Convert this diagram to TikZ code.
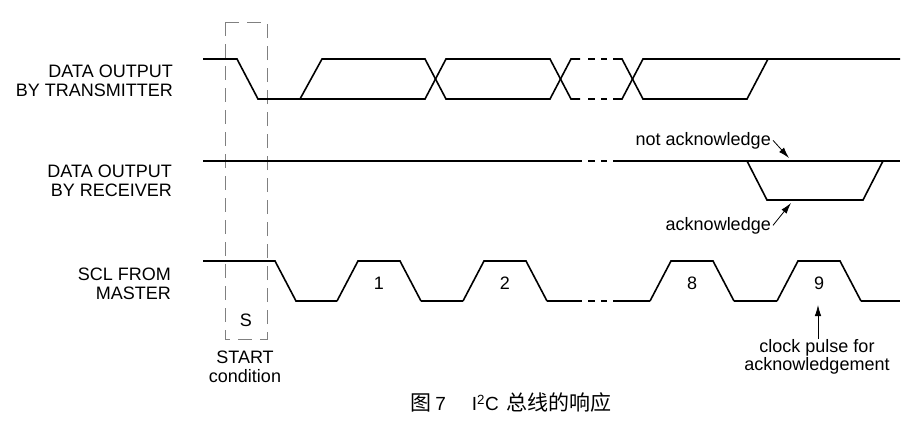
\documentclass[tikz,border=0pt]{standalone}
\usepackage{fontspec}
\setmainfont{Liberation Sans}
\newfontfamily\cjk{Noto Sans CJK SC}
\usetikzlibrary{arrows.meta}

\begin{document}
\begin{tikzpicture}[
    x=1pt, y=-1pt,
    >={Latex[length=11pt,width=6.5pt]},
    every node/.style={font=\fontsize{18}{18.5}\selectfont, inner sep=0pt},
    signal/.style={line width=1.6pt, line join=miter},
    startbox/.style={draw=black!50, line width=0.9pt, dash pattern=on 14pt off 8pt},
    rowlbl/.style={anchor=north east, align=right},
    notelbl/.style={anchor=base east},
    pointer/.style={->, line width=0.8pt}
]
\useasboundingbox (0,0) rectangle (922,439);

% START-Rahmen
\draw[startbox] (225,22) rectangle (267,339);
\node (s) at (246,320) {S};
\node[anchor=north, align=center] (start) at (245,351) {START\\condition};

% =========================================================
% Sender
% =========================================================
\node[rowlbl] (tx) at (173,65) {DATA OUTPUT\\BY TRANSMITTER};

\draw[signal] (203,59) -- (237,59) -- (258,99) -- (425,99) -- (446,59)
    -- (550,59) -- (571,99) -- (580,99);
\draw[signal] (300,99) -- (322,59) -- (425,59) -- (446,99)
    -- (550,99) -- (571,59) -- (580,59);
\draw[signal] (613,59) -- (622,59) -- (643,99) -- (747,99) -- (768,59) -- (900,59);
\draw[signal] (613,99) -- (622,99) -- (643,59) -- (768,59);

% =========================================================
% Empfaenger
% =========================================================
\node[rowlbl] (rx) at (172,165) {DATA OUTPUT\\BY RECEIVER};

\draw[signal] (203,161) -- (582,161);
\draw[signal] (613,161) -- (900,161);
\draw[signal] (747,161) -- (767,200) -- (863,200) -- (883,161);

\coordinate (nacktip) at (789,158);
\coordinate (acktip) at (791,203);
\node[notelbl] (nack) at (771,145) {not acknowledge};
\node[notelbl] (ack) at (771,230) {acknowledge};
\draw[pointer] ([xshift=2pt]nack.east) -- (nacktip);
\draw[pointer] ([xshift=2pt]ack.east) -- (acktip);

% =========================================================
% Takt
% =========================================================
\node[rowlbl] (scl) at (171,268) {SCL FROM\\MASTER};

\draw[signal] (203,261) -- (275,261) -- (296,301) -- (337,301);
\foreach \x/\n in {337/1,463/2,650/8,777/9} {
    \draw[signal] (\x,301) -- ({\x+21},261) -- ({\x+63},261) -- ({\x+84},301);
    \node (pulse\n) at ({\x+42},283) {\n};
}
\draw[signal] (421,301) -- (463,301);
\draw[signal] (547,301) -- (582,301);
\draw[signal] (613,301) -- (650,301);
\draw[signal] (734,301) -- (777,301);
\draw[signal] (861,301) -- (900,301);

% Luecken (gestrichelt)
\foreach \y in {59,99,161,301} {
    \draw[signal] (588,\y) -- (595,\y) (601,\y) -- (607,\y);
}

\coordinate (clktip) at (818,305);
\node[anchor=north, align=center] (clk) at (817,339)
    {clock pulse for\\acknowledgement};
\draw[pointer] ([xshift=1pt]clk.north) -- (clktip);

% Bildunterschrift
\node (cap) at (511,403)
    {\fontsize{21}{22}\selectfont\cjk 图\hspace{4pt}\fontsize{19}{20}\selectfont\rmfamily 7\hspace{26pt}I\textsuperscript{2}C\hspace{8pt}\fontsize{21}{22}\selectfont\cjk 总线的响应};

\end{tikzpicture}
\end{document}
